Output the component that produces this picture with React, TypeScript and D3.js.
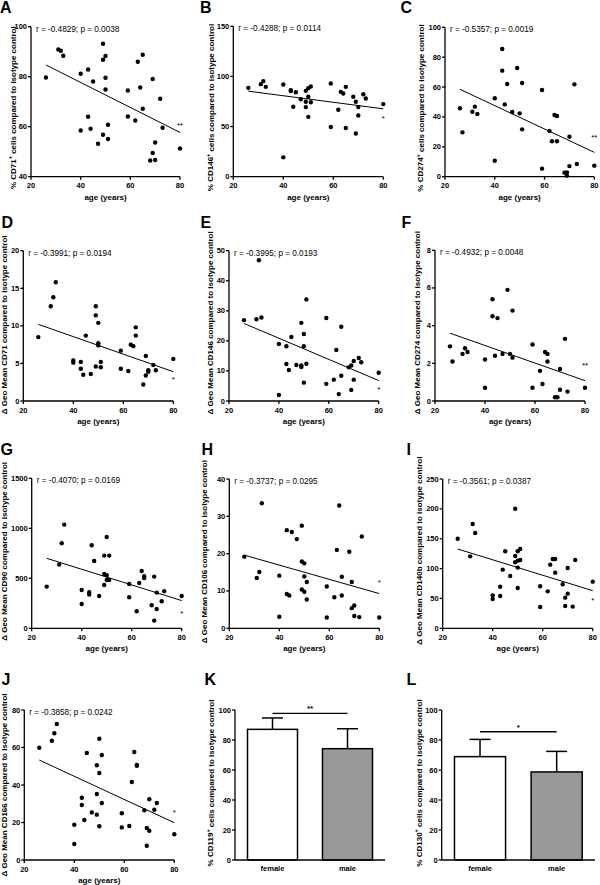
import React from "react";
import * as d3 from "d3";

const FONT = '"Liberation Sans", Arial, Helvetica, sans-serif';

// ---------- data ----------
const agesA = [26,31,32,33,40,40,43,43,44,45,47,49,49,49,50,50,50,51,51,59,59,62,63,64,65,65,68,69,69,70,70,72,73,80];
const valsA = [79.7,90.9,90.4,88.4,81.2,58.5,82.9,64,59.2,78.1,53.2,93.2,86.8,56.8,88.3,79.6,74.9,60.8,55.1,74.5,64.1,62.5,86,75.7,88.8,67.2,46.5,79.1,49.5,53.7,46.7,71.2,59.6,51.3];
const agesB = [26,31,32,33,40,40,43,43,44,45,47,49,49,49,50,50,50,51,51,59,59,62,63,64,65,65,68,69,69,70,70,72,73,80];
const valsB = [88.6,92.3,95.3,89.6,91.9,19.3,86.3,85.5,69.7,84.3,77.3,85.6,74.7,69.4,88.3,79.7,59.7,90,74.3,92.9,49.5,66.7,84.6,83,89.6,48.5,79.7,74.7,43.1,69.4,61.1,82.3,78,72.4];
const agesC = [26,27,31,32,33,40,40,43,43,44,45,47,49,50,51,51,59,59,62,63,64,65,65,68,69,69,70,70,72,73,80];
const valsC = [45.8,29.7,43.5,46.9,42,52.5,10.7,85.5,71,48.4,62,43.3,72.8,42.4,62.7,31.7,58,5.4,30.6,23.7,41.3,40.6,23.7,2.7,2.9,0.7,26.8,7.1,61.8,8.5,7.4];
const agesD = [26,31,32,33,40,40,43,43,44,45,47,49,49,49,50,50,50,51,51,59,59,62,63,64,65,65,68,69,69,70,70,72,73,80];
const valsD = [8.5,12.6,13.8,15.8,5.4,5.1,5.2,4.3,3.5,8.7,3.6,12.6,11.4,4.6,10.4,7.7,7.4,5.2,4.5,6.7,4.3,4,7.5,7.3,9.8,8.7,2.2,6,3.4,4.1,3.9,4.8,4.1,5.6];
const agesE = [26,31,32,33,40,40,43,43,44,45,47,49,49,49,50,50,50,51,51,59,59,62,63,64,65,65,68,69,69,70,70,72,73,80];
const valsE = [26.9,27.2,46.8,27.8,19,2,18.2,12.3,10.3,21.3,12,26,11.8,11.3,22.3,18.2,6.1,33.8,12.4,27.6,5.7,7.1,17,2.3,24.7,8.4,11.2,11.8,3.7,13.3,7.1,14.3,12.9,9.4];
const agesF = [26,27,31,32,33,40,40,43,43,44,45,47,49,50,51,51,59,59,62,63,64,65,65,68,69,70,70,72,73,80];
const valsF = [2.9,2.1,2.5,2.8,2.6,2.2,0.7,5.4,4.5,2.4,4.4,2.5,5.9,2.5,2.3,4.8,3,0.7,1.6,0.9,2.6,2.5,2.1,0.2,0.2,1.7,0.6,3.3,0.5,0.7];
const agesG = [26,31,32,33,40,40,43,43,44,45,47,49,49,49,50,50,50,51,51,59,59,62,63,64,65,65,68,69,69,70,70,72,73,80];
const valsG = [417,637,850,1037,383,243,360,337,830,673,323,727,543,433,913,530,483,727,483,443,310,170,453,573,520,503,230,517,77,357,193,270,370,323];
const agesH = [26,31,32,33,40,40,43,43,44,45,47,49,49,49,50,50,50,51,51,59,59,62,63,64,65,65,68,69,69,70,70,72,73,80];
const valsH = [19.2,13.5,15.1,33.5,14.1,3.1,26.3,9.2,8.8,25.8,23.9,27.5,17.9,10.4,17.4,13.9,9.8,12.4,7.7,11.2,2.9,8.3,21,32.9,13.8,8.8,20.5,12.4,5.4,6.1,3.3,3,24.6,2.9];
const agesI = [26,31,32,33,40,40,43,43,44,45,47,49,49,49,50,50,50,50,51,51,59,59,62,63,64,65,65,68,69,69,70,70,72,73,80];
const valsI = [150,120.5,174.7,159.6,55.2,49,69.7,54.1,98.2,128.9,87.6,200.3,121,110.5,113.3,101.6,67.5,128.9,132.8,114.4,70.3,35.7,61.9,106.6,116,116,93.2,73.7,51.3,37.4,58,101,36.3,114.4,78.1];
const agesJ = [26,31,32,33,40,40,43,43,44,45,47,49,49,49,50,50,50,51,51,59,59,62,63,64,65,65,68,69,69,70,70,72,73,80];
const valsJ = [59.9,63.6,67.6,72.5,18.8,8.5,33.2,29.3,21.3,57.1,25.4,50.5,35.2,24.2,64.7,46.4,18,56,30.4,24.9,17.4,18.1,41.6,57.6,50.7,50.3,26.5,17.1,7.6,32.4,15.6,26.8,30.4,13.7];

// regression line values at age 26 and age 80
const fitAges = [26, 80];
const fitA = [84.7, 57.7];
const fitB = [85.3, 67.7];
const fitC = [58.5, 16.3];
const fitD = [10.2, 3.9];
const fitE = [25.8, 6.8];
const fitF = [3.6, 1.08];
const fitG = [700, 277];
const fitH = [19.6, 9.3];
const fitI = [132.8, 63];
const fitJ = [53.3, 19.9];

const statTexts = [
  "r = -0.4829; p = 0.0038", "r = -0.4288; p = 0.0114", "r = -0.5357; p = 0.0019",
  "r = -0.3991; p = 0.0194", "r = -0.3995; p = 0.0193", "r = -0.4932; p = 0.0048",
  "r = -0.4070; p = 0.0169", "r = -0.3737; p = 0.0295", "r = -0.3561; p = 0.0387",
  "r = -0.3858; p = 0.0242",
];
const starTexts = ["**", "*", "**", "*", "*", "**", "*", "*", "*", "*"];
const starValues = [60.3, 57.6, 26, 2.8, 3.7, 1.87, 150, 12.2, 45.8, 25.6];

const xTicks = [20, 40, 60, 80];
const yTicksA = [40, 60, 80, 100];
const yTicksB = [0, 50, 100, 150];
const yTicksC = [0, 20, 40, 60, 80, 100];
const yTicksD = [0, 5, 10, 15, 20];
const yTicksE = [0, 10, 20, 30, 40, 50];
const yTicksF = [0, 2, 4, 6, 8];
const yTicksG = [0, 500, 1000, 1500];
const yTicksH = [0, 10, 20, 30, 40];
const yTicksI = [0, 50, 100, 150, 200, 250];
const yTicksJ = [0, 20, 40, 60, 80];
const yTicksBar = [0, 20, 40, 60, 80, 100];

const markers = ["CD71", "CD146", "CD274", "CD71", "CD146", "CD274", "CD90", "CD106", "CD140b", "CD166"];

// bar panels
const sexes = ["female", "male"];
const meanK = [87.1, 74.2];
const errK = [94.7, 87.5];
const sigK = 97.8;
const meanL = [68.9, 58.7];
const errL = [80.4, 72.4];
const sigL = 85.5;

// ---------- layout ----------
type Box = { l: number; r: number; t: number; b: number };
const scatterLayout: { box: Box; labelX: number; labelDy: number; letter: string; lx: number; ly: number }[] = [
  { box: { l: 31, r: 180, t: 26.7, b: 176.7 }, labelX: 13, labelDy: 6, letter: "A", lx: 0, ly: 13 },
  { box: { l: 233.3, r: 383.3, t: 26.3, b: 176.7 }, labelX: 210.5, labelDy: 6, letter: "B", lx: 200, ly: 13 },
  { box: { l: 445, r: 594.3, t: 27.3, b: 176.7 }, labelX: 420.5, labelDy: 6, letter: "C", lx: 400.5, ly: 13 },
  { box: { l: 23.3, r: 173.3, t: 250.7, b: 401 }, labelX: 4.5, labelDy: -1, letter: "D", lx: 1.5, ly: 228.3 },
  { box: { l: 229, r: 378.7, t: 250.7, b: 401 }, labelX: 210.5, labelDy: -3, letter: "E", lx: 200.5, ly: 228.3 },
  { box: { l: 435, r: 585, t: 250.3, b: 401 }, labelX: 417, labelDy: -3, letter: "F", lx: 401.5, ly: 228.3 },
  { box: { l: 31.7, r: 181.7, t: 478.3, b: 628.3 }, labelX: 4.5, labelDy: -2, letter: "G", lx: 0.5, ly: 455 },
  { box: { l: 229.3, r: 379.3, t: 479, b: 628.3 }, labelX: 204.5, labelDy: -2, letter: "H", lx: 201.5, ly: 455 },
  { box: { l: 442.7, r: 592.7, t: 479, b: 628.3 }, labelX: 419, labelDy: -3, letter: "I", lx: 406.5, ly: 455 },
  { box: { l: 24.3, r: 174.3, t: 710, b: 860 }, labelX: 4.5, labelDy: 0, letter: "J", lx: 1.5, ly: 685 },
];
const barLayout = [
  { box: { l: 235, r: 385, t: 710, b: 860 }, labelX: 210.5, labelDy: -2, letter: "K", lx: 204.5, ly: 685 },
  { box: { l: 441.7, r: 595, t: 710, b: 860 }, labelX: 419, labelDy: -2, letter: "L", lx: 406.5, ly: 685 },
];

const AXW = 1.3;
const TICK = 3;
const TICKFS = 7.5;

function YLabel({ x, cy, pct, marker }: { x: number; cy: number; pct: boolean; marker: string }) {
  return (
    <text
      transform={`translate(${x},${cy}) rotate(-90)`}
      textAnchor="middle"
      dominantBaseline="central"
      fontFamily={FONT}
      fontWeight="bold"
      fontSize={8}
      fill="#000"
    >
      {pct ? (
        <>
          {"% " + marker}
          <tspan dy={-3} fontSize={5.5}>+</tspan>
          <tspan dy={3}>{" cells compared to isotype control"}</tspan>
        </>
      ) : (
        "\u0394 Geo Mean " + marker + " compared to isotype control"
      )}
    </text>
  );
}

function YAxis({ y, ticks, box }: { y: d3.ScaleLinear<number, number>; ticks: number[]; box: Box }) {
  return (
    <g>
      <line x1={box.l} x2={box.l} y1={box.t} y2={box.b} stroke="#000" strokeWidth={AXW} />
      {ticks.map((t) => (
        <g key={t}>
          <line x1={box.l - TICK} x2={box.l} y1={y(t)} y2={y(t)} stroke="#000" strokeWidth={AXW} />
          <text
            x={box.l - TICK - 1}
            y={y(t)}
            textAnchor="end"
            dominantBaseline="central"
            fontFamily={FONT}
            fontWeight="bold"
            fontSize={TICKFS}
          >
            {t}
          </text>
        </g>
      ))}
    </g>
  );
}

function Scatter({ i, ages, vals, fit, yTicks }: { i: number; ages: number[]; vals: number[]; fit: number[]; yTicks: number[] }) {
  const L = scatterLayout[i];
  const box = L.box;
  const x = d3.scaleLinear().domain([20, 80]).range([box.l, box.r]);
  const y = d3.scaleLinear().domain([yTicks[0], yTicks[yTicks.length - 1]]).range([box.b, box.t]);
  const line = d3
    .line<number>()
    .x((_, k) => x(fitAges[k]))
    .y((d) => y(d));
  const cy = (box.t + box.b) / 2 + L.labelDy;
  const pct = i < 3;
  return (
    <g>
      <text x={L.lx} y={L.ly} fontFamily={FONT} fontWeight="bold" fontSize={16}>
        {L.letter}
      </text>
      <YLabel x={L.labelX} cy={cy} pct={pct} marker={markers[i]} />
      <YAxis y={y} ticks={yTicks} box={box} />
      <line x1={box.l} x2={box.r} y1={box.b} y2={box.b} stroke="#000" strokeWidth={AXW} />
      {xTicks.map((t) => (
        <g key={t}>
          <line x1={x(t)} x2={x(t)} y1={box.b} y2={box.b + TICK} stroke="#000" strokeWidth={AXW} />
          <text x={x(t)} y={box.b + 11.5} textAnchor="middle" fontFamily={FONT} fontWeight="bold" fontSize={TICKFS}>
            {t}
          </text>
        </g>
      ))}
      <text x={(box.l + box.r) / 2} y={box.b + 23} textAnchor="middle" fontFamily={FONT} fontWeight="bold" fontSize={8}>
        age (years)
      </text>
      <text x={box.l + 5} y={box.t + 5} fontFamily={FONT} fontSize={8.2}>
        {statTexts[i]}
      </text>
      <path d={line(fit) || ""} fill="none" stroke="#000" strokeWidth={1} />
      {ages.map((a, k) => (
        <circle key={k} cx={x(a)} cy={y(vals[k])} r={2.2} fill="#000" />
      ))}
      <text
        x={x(80)}
        y={y(starValues[i])}
        textAnchor="middle"
        dominantBaseline="central"
        fontFamily={FONT}
        fontSize={8}
      >
        {starTexts[i]}
      </text>
    </g>
  );
}

function Bars({ j, means, errs, sig, star, marker }: { j: number; means: number[]; errs: number[]; sig: number; star: string; marker: string }) {
  const L = barLayout[j];
  const box = L.box;
  const x = d3.scaleBand<string>().domain(sexes).range([box.l, box.r]).paddingInner(1 / 3).paddingOuter(1 / 6);
  const y = d3.scaleLinear().domain([0, 100]).range([box.b, box.t]);
  const bw = x.bandwidth();
  const cap = 21;
  const c0 = (x(sexes[0]) as number) + bw / 2;
  const c1 = (x(sexes[1]) as number) + bw / 2;
  const cy = (box.t + box.b) / 2 + L.labelDy;
  return (
    <g>
      <text x={L.lx} y={L.ly} fontFamily={FONT} fontWeight="bold" fontSize={16}>
        {L.letter}
      </text>
      <YLabel x={L.labelX} cy={cy} pct={true} marker={marker} />
      {sexes.map((s, k) => {
        const cx = (x(s) as number) + bw / 2;
        return (
          <g key={s}>
            <line x1={cx} x2={cx} y1={y(means[k])} y2={y(errs[k])} stroke="#000" strokeWidth={1.5} />
            <line x1={cx - cap / 2} x2={cx + cap / 2} y1={y(errs[k])} y2={y(errs[k])} stroke="#000" strokeWidth={1.5} />
            <rect
              x={x(s)}
              y={y(means[k])}
              width={bw}
              height={box.b - y(means[k])}
              fill={k === 0 ? "#ffffff" : "#999999"}
              stroke="#000"
              strokeWidth={1.5}
            />
            <text x={cx} y={box.b + 11} textAnchor="middle" fontFamily={FONT} fontWeight="bold" fontSize={TICKFS}>
              {s}
            </text>
          </g>
        );
      })}
      <YAxis y={y} ticks={yTicksBar} box={box} />
      <line x1={box.l} x2={box.r} y1={box.b} y2={box.b} stroke="#000" strokeWidth={AXW} />
      <line x1={c0} x2={c1} y1={y(sig)} y2={y(sig)} stroke="#000" strokeWidth={1.3} />
      <text x={(c0 + c1) / 2} y={y(sig) - 2} textAnchor="middle" fontFamily={FONT} fontWeight="bold" fontSize={8}>
        {star}
      </text>
    </g>
  );
}

export default function App() {
  return (
    <svg
      width={600}
      height={885}
      viewBox="0 0 600 885"
      style={{ position: "absolute", left: 0, top: 0, background: "#fff" }}
    >
      <rect x={0} y={0} width={600} height={885} fill="#fff" />
      <Scatter i={0} ages={agesA} vals={valsA} fit={fitA} yTicks={yTicksA} />
      <Scatter i={1} ages={agesB} vals={valsB} fit={fitB} yTicks={yTicksB} />
      <Scatter i={2} ages={agesC} vals={valsC} fit={fitC} yTicks={yTicksC} />
      <Scatter i={3} ages={agesD} vals={valsD} fit={fitD} yTicks={yTicksD} />
      <Scatter i={4} ages={agesE} vals={valsE} fit={fitE} yTicks={yTicksE} />
      <Scatter i={5} ages={agesF} vals={valsF} fit={fitF} yTicks={yTicksF} />
      <Scatter i={6} ages={agesG} vals={valsG} fit={fitG} yTicks={yTicksG} />
      <Scatter i={7} ages={agesH} vals={valsH} fit={fitH} yTicks={yTicksH} />
      <Scatter i={8} ages={agesI} vals={valsI} fit={fitI} yTicks={yTicksI} />
      <Scatter i={9} ages={agesJ} vals={valsJ} fit={fitJ} yTicks={yTicksJ} />
      <Bars j={0} means={meanK} errs={errK} sig={sigK} star="**" marker="CD119" />
      <Bars j={1} means={meanL} errs={errL} sig={sigL} star="*" marker="CD130" />
    </svg>
  );
}
